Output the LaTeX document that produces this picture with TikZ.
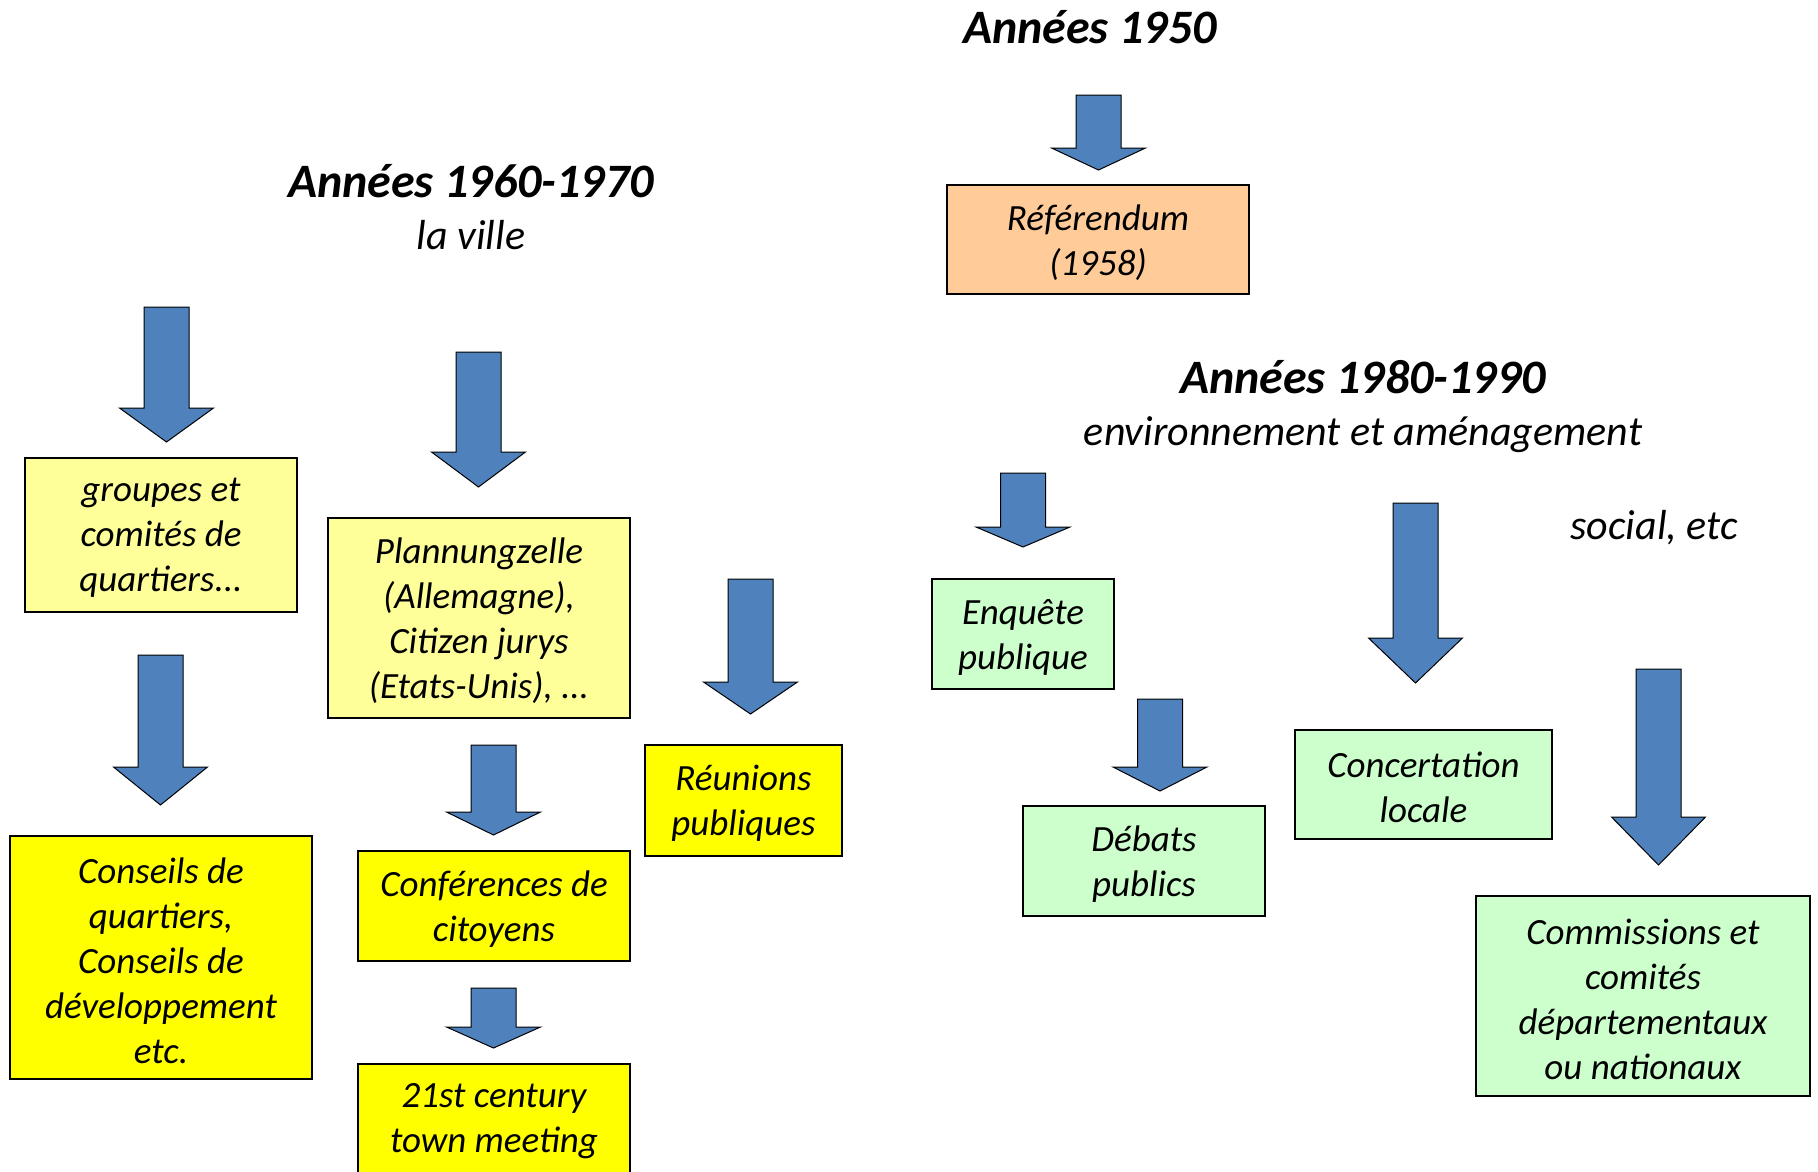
\documentclass[tikz,border=0pt]{standalone}
\usepackage{fontspec}
\setmainfont{Carlito}
\definecolor{paleyellow}{HTML}{FFFF99}
\definecolor{brightyellow}{HTML}{FFFF00}
\definecolor{peach}{HTML}{FFCC99}
\definecolor{palegreen}{HTML}{CCFFCC}
\definecolor{arrowblue}{HTML}{4F81BD}
\newcommand\blockarrow[4]{% cx, top, base, tip
  \draw[blockarr] ({#1-22.5},#2) -- ({#1+22.5},#2) -- ({#1+22.5},#3) -- ({#1+47},#3) -- (#1,#4) -- ({#1-47},#3) -- ({#1-22.5},#3) -- cycle;}
\newcommand\textbox[7]{% name, cx, cy, w, h, fill, text
  \node[boxshape, fill=#6, minimum width=#4pt, minimum height=#5pt] (#1) at (#2,#3) {};
  \node[boxtext] (#1-t) at (#2,{#3+3}) {#7};}
\tikzset{
  boxshape/.style={draw=black, line width=1.5pt, inner sep=0pt},
  boxtext/.style={inner sep=0pt, align=center, font=\fontsize{37}{45}\selectfont\itshape},
  blockarr/.style={draw=black, line width=1pt, fill=arrowblue, line join=miter},
  titletext/.style={anchor=base, inner sep=0pt, font=\fontsize{48}{56}\selectfont\bfseries\itshape},
  subtext/.style={anchor=base, inner sep=0pt, font=\fontsize{42}{50}\selectfont\itshape},
}
\begin{document}
\begin{tikzpicture}[x=1pt,y=-1pt]
\useasboundingbox (0,0) rectangle (1818,1172);
\clip (0,0) rectangle (1818,1172);
\fill[white] (0,0) rectangle (1818,1172);

% titles
\node[titletext] (t50) at (1090,44) {Années 1950};
\node[titletext] (t60) at (471,197) {Années 1960-1970};
\node[subtext] (s60) at (471,249) {la ville};
\node[titletext] (t80) at (1363,393) {Années 1980-1990};
\node[subtext] (s80) at (1363,445) {environnement et aménagement};
\node[subtext] (soc) at (1654,539) {social, etc};

% boxes
\textbox{ref}{1098}{239.5}{302}{109}{peach}{Référendum\\(1958)}
\textbox{grp}{161}{535}{272}{154}{paleyellow}{groupes et\\comités de\\quartiers...}
\textbox{plan}{479}{618}{302}{200}{paleyellow}{Plannungzelle\\(Allemagne),\\Citizen jurys\\(Etats-Unis), ...}
\textbox{cons}{161}{957.5}{302}{243}{brightyellow}{Conseils de\\quartiers,\\Conseils de\\développement\\etc.}
\textbox{conf}{494}{906}{272}{110}{brightyellow}{Conférences de\\citoyens}
\node[boxshape, fill=brightyellow, minimum width=272pt, minimum height=120pt, anchor=north] (town) at (494,1063) {};
\node[boxtext] (town-t) at (494,1121) {21st century\\town meeting};
\textbox{reun}{743.5}{800.5}{197}{111}{brightyellow}{Réunions\\publiques}
\textbox{enq}{1023}{634}{182}{110}{palegreen}{Enquête\\publique}
\textbox{deb}{1144}{861}{242}{110}{palegreen}{Débats\\publics}
\textbox{conc}{1423.5}{784.5}{257}{109}{palegreen}{Concertation\\locale}
\textbox{comm}{1643}{996}{334}{200}{palegreen}{Commissions et\\comités\\départementaux\\ou nationaux}

% block arrows
\blockarrow{1098.5}{95}{148}{170}
\blockarrow{166.5}{307}{408}{442}
\blockarrow{478.5}{352}{452}{487}
\blockarrow{160.5}{655}{767}{805}
\blockarrow{493.5}{745}{812}{835}
\blockarrow{493.5}{988}{1027}{1048}
\blockarrow{750.5}{579}{682}{714}
\blockarrow{1023}{473}{527}{547}
\blockarrow{1415.5}{503}{638}{683}
\blockarrow{1160}{699}{767}{791}
\blockarrow{1658.5}{669}{817}{865}
\end{tikzpicture}
\end{document}
